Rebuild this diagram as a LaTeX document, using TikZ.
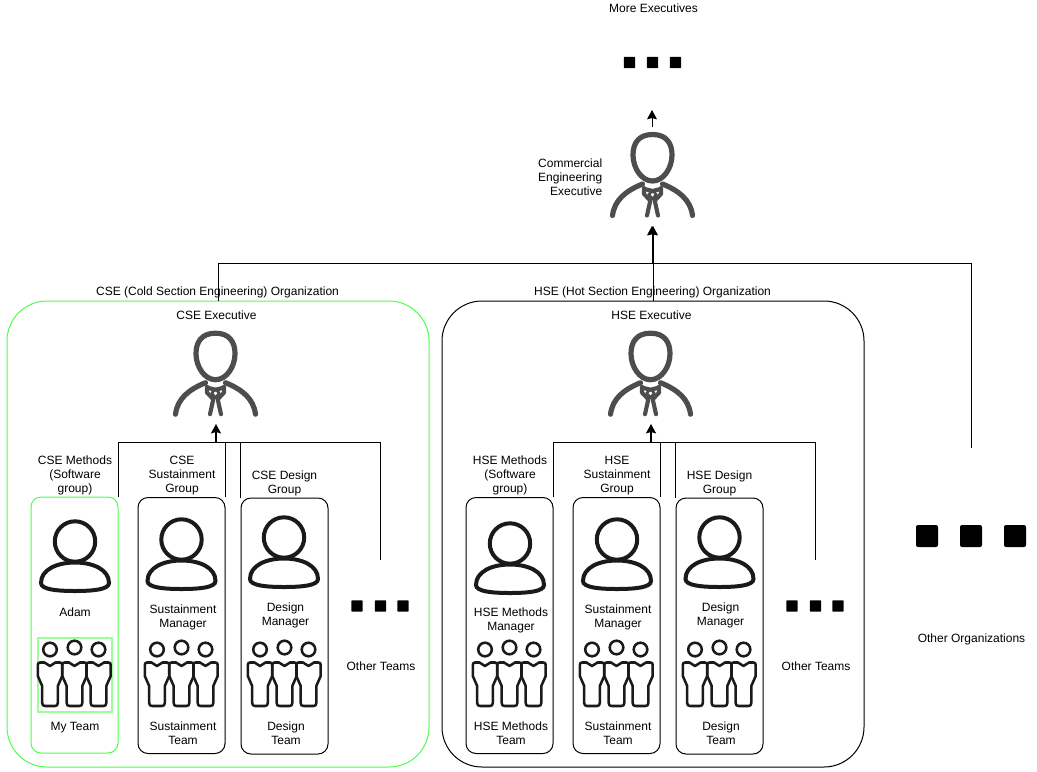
\documentclass[tikz,border=0pt]{standalone}
\usepackage{fontspec}
\setmainfont{Liberation Sans}
\usetikzlibrary{arrows.meta}
\definecolor{lime}{HTML}{4DFF4D}
\definecolor{palelime}{HTML}{99FF99}
\definecolor{execgrey}{HTML}{4D4D4D}
\definecolor{iconblack}{HTML}{1A1A1A}
\tikzset{
  x=0.75pt,y=-0.75pt,
  label text/.style={align=center,inner sep=0pt,font=\fontsize{9}{10.5}\selectfont},
  org box/.style={draw,line width=0.75pt,rounded corners=30pt,minimum width=316.5pt,minimum height=349.5pt,inner sep=0pt},
  team box/.style={draw,line width=0.75pt,rounded corners=7.5pt,minimum width=65.25pt,minimum height=192pt,inner sep=0pt},
  conn/.style={line width=0.75pt,draw=black},
  flow/.style={line width=0.75pt,draw=black,-{Stealth[length=7pt,width=7.5pt,inset=1pt]}},
  flow bold/.style={flow,line width=1.2pt},
  dot small/.style={fill=black,rounded corners=0.6pt,minimum size=8.5pt,inner sep=0pt},
  dot big/.style={fill=black,rounded corners=1.5pt,minimum size=16.5pt,inner sep=0pt},
  pics/execicon/.style={code={
    \begin{scope}[draw=execgrey,line width=3.9pt,line cap=round,line join=round]
      \draw (0,-23.5) .. controls (-14.5,-23.5) and (-19.5,-14) .. (-19.5,-3) .. controls (-19.5,10) and (-11,23) .. (0,23)
            .. controls (11,23) and (19.5,10) .. (19.5,-3) .. controls (19.5,-14) and (14.5,-23.5) .. (0,-23.5) -- cycle;
      \draw (-40,57.5) .. controls (-38,42) and (-27,33) .. (-10,26);
      \draw (40,57.5) .. controls (38,42) and (27,33) .. (10,26);
    \end{scope}
    \begin{scope}[draw=execgrey,line width=3.1pt,line cap=round,line join=round]
      \draw (-8.5,30) -- (-8.5,36) -- (-2.2,42.5) -- (-5.5,57.5);
      \draw (8.5,30) -- (8.5,36) -- (2.2,42.5) -- (5.5,57.5);
      \draw (-8,31) -- (0,33) -- (8,31);
    \end{scope}
    \draw[draw=execgrey,line width=2pt,line join=round] (-3.8,36.5) -- (0,32.5) -- (3.8,36.5) -- (0,41) -- cycle;
  }},
  pics/usericon/.style={code={
    \begin{scope}[draw=iconblack,line width=3pt]
      \draw (0,0) circle[radius=20.2];
      \draw (-34,41.5) .. controls (-34,28) and (-18,21) .. (0,21) .. controls (18,21) and (34,28) .. (34,41.5)
            .. controls (34,48) and (18,49.5) .. (0,49.5) .. controls (-18,49.5) and (-34,48) .. (-34,41.5) -- cycle;
    \end{scope}
  }},
  pics/teamperson/.style={code={
    \begin{scope}[draw=iconblack,line width=1.9pt,line join=round]
      \draw (0,#1) circle[radius=6.8];
      \draw (-5.5,12.5) -- (0,16) -- (5.5,12.5) -- (10,12.5) .. controls (11.5,12.5) and (12.2,13.3) .. (12.2,15) -- (12.2,26) -- (7.8,36) -- (7.8,53)
        .. controls (7.8,55) and (6.8,56) .. (4.8,56) -- (-4.8,56) .. controls (-6.8,56) and (-7.8,55) .. (-7.8,53)
        -- (-7.8,36) -- (-12.2,26) -- (-12.2,15) .. controls (-12.2,13.3) and (-11.5,12.5) .. (-10,12.5) -- cycle;
    \end{scope}
  }},
  pics/teamicon/.style={code={
    \pic at (-24.5,0) {teamperson={-0.5}};
    \pic at (0,0) {teamperson={-2.5}};
    \pic at (24,0) {teamperson={-0.5}};
  }},
}
\begin{document}
\begin{tikzpicture}
\useasboundingbox (0,0) rectangle (1037,771);

% organisations
\node[org box,draw=lime] (cseOrg) at (218,534) {};
\node[org box] (hseOrg) at (653,534) {};

% team boxes
\node[team box,draw=lime] (cseM) at (74.5,625) {};
\node[team box] (cseS) at (181.5,625.5) {};
\node[team box] (cseD) at (284.5,626) {};
\node[team box] (hseM) at (509.5,625.5) {};
\node[team box] (hseS) at (616.5,625.5) {};
\node[team box] (hseD) at (719.5,626) {};
\node[draw=palelime,line width=1.5pt,minimum size=55.5pt,inner sep=0pt] (myTeam) at (74.5,674.5) {};

% anchors of the icons and dots
\node[inner sep=0pt,minimum width=63pt,minimum height=74.25pt] (ceExec) at (652,176.5) {};
\coordinate (moreTip) at (652,110);
\coordinate (ceTipA) at (652,226);
\coordinate (ceTipB) at (653,226);
\coordinate (cseTip) at (216,424);
\coordinate (hseTip) at (651,424);
\coordinate (ceHub) at (652,263.5);
\coordinate (cseHub) at (216,442.5);
\coordinate (hseHub) at (651,442.5);
\coordinate (otherOrgs) at (971,448);
\coordinate (cseOther) at (380.5,560);
\coordinate (hseOther) at (815.5,560);

% icons
\pic at (652.5,158) {execicon};
\pic at (215.5,356.7) {execicon};
\pic at (650.5,356.7) {execicon};
\pic at (75,541.5) {usericon};
\pic at (181.5,539.5) {usericon};
\pic at (284,537.5) {usericon};
\pic at (510,543.5) {usericon};
\pic at (617,539.5) {usericon};
\pic at (719.5,537.5) {usericon};
\pic at (74.5,650) {teamicon};
\pic at (181.5,650) {teamicon};
\pic at (284.5,650) {teamicon};
\pic at (509.5,650) {teamicon};
\pic at (616.5,650) {teamicon};
\pic at (719.5,650) {teamicon};

% dots
\foreach \n/\px in {a/629.5,b/652.5,c/675.5} \node[dot small] (more\n) at (\px,62.5) {};
\foreach \n/\px in {a/357,b/380.5,c/403} \node[dot small] (cseDot\n) at (\px,606) {};
\foreach \n/\px in {a/792,b/815.5,c/838} \node[dot small] (hseDot\n) at (\px,606) {};
\foreach \n/\px in {a/927,b/971,c/1015} \node[dot big] (orgDot\n) at (\px,536) {};

% connectors
\draw[flow] (ceExec.north) -- (moreTip);
\draw[flow] (ceHub) -- (ceTipA);
\draw[flow] (hseOrg.north) -- (ceTipB);
\draw[conn] (cseOrg.north) |- (ceHub);
\draw[conn] (otherOrgs) |- (ceHub);
\draw[flow bold] (cseHub) -- (cseTip);
\draw[flow bold] (hseHub) -- (hseTip);
\draw[conn] (cseM.north east) |- (cseHub);
\draw[conn] (cseS.north east) |- (cseHub);
\draw[conn] (cseD.north west) |- (cseHub);
\draw[conn] (cseOther) |- (cseHub);
\draw[conn] (hseM.north east) |- (hseHub);
\draw[conn] (hseS.north east) |- (hseHub);
\draw[conn] (hseD.north west) |- (hseHub);
\draw[conn] (hseOther) |- (hseHub);

% labels
\node[label text] (tMore) at (653.5,8) {More Executives};
\node[label text,align=right,anchor=east] (tCE) at (602.5,177.5) {Commercial\\Engineering\\Executive};
\node[label text] (tCSEorg) at (217.5,292.5) {CSE (Cold Section Engineering) Organization};
\node[label text] (tHSEorg) at (652.5,292.5) {HSE (Hot Section Engineering) Organization};
\node[label text] (tCSEx) at (216.5,315) {CSE Executive};
\node[label text] (tHSEx) at (651.5,315) {HSE Executive};
\node[label text] (t1) at (75,475) {CSE Methods\\(Software\\group)};
\node[label text] (t2) at (182,475.5) {CSE\\Sustainment\\Group};
\node[label text] (t3) at (284.5,483) {CSE Design\\Group};
\node[label text] (t4) at (510,475) {HSE Methods\\(Software\\group)};
\node[label text] (t5) at (617,475.5) {HSE\\Sustainment\\Group};
\node[label text] (t6) at (719.5,483) {HSE Design\\Group};
\node[label text] (t7) at (75,612) {Adam};
\node[label text] (t8) at (183,617) {Sustainment\\Manager};
\node[label text] (t9) at (285.5,615) {Design\\Manager};
\node[label text] (t10) at (511,620) {HSE Methods\\Manager};
\node[label text] (t11) at (618,617) {Sustainment\\Manager};
\node[label text] (t12) at (720.5,615) {Design\\Manager};
\node[label text] (t13) at (75,728) {My Team};
\node[label text] (t14) at (183,733) {Sustainment\\Team};
\node[label text] (t15) at (286,733) {Design\\Team};
\node[label text] (t16) at (511,733) {HSE Methods\\Team};
\node[label text] (t17) at (618,733) {Sustainment\\Team};
\node[label text] (t18) at (721,733) {Design\\Team};
\node[label text] (t19) at (381,666) {Other Teams};
\node[label text] (t20) at (816,666) {Other Teams};
\node[label text] (t21) at (971.5,639) {Other Organizations};
\end{tikzpicture}
\end{document}
